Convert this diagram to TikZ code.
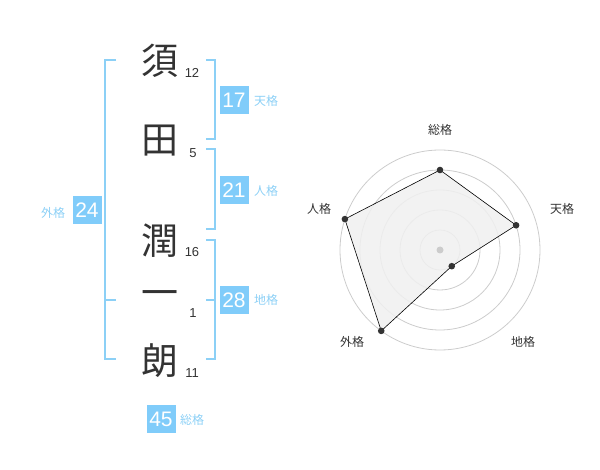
\documentclass[tikz,border=0pt]{standalone}
\usepackage{fontspec}
\usetikzlibrary{calc}
\setmainfont{Liberation Sans}
\newfontfamily\jp{Noto Sans CJK JP}
\definecolor{bk}{RGB}{128,204,250}
\definecolor{bl}{RGB}{140,208,246}
\definecolor{tx}{RGB}{51,51,51}
\definecolor{rg}{RGB}{204,204,204}
\definecolor{pf}{RGB}{240,240,240}
\tikzset{
  kanji/.style={font=\jp\fontsize{37}{37}\selectfont, text=tx, inner sep=0pt},
  stroke/.style={font=\fontsize{13}{13}\selectfont, text=tx, inner sep=0pt},
  numbox/.style={fill=bk, text=white, minimum width=29pt, minimum height=28pt, inner sep=0pt, font=\fontsize{21}{21}\selectfont},
  kaku/.style={font=\jp\fontsize{12}{12}\selectfont, text=bl, inner sep=0pt},
  brk/.style={draw=bl, line width=1.6pt},
  ring/.style={draw=rg, line width=0.8pt},
  axlab/.style={font=\jp\fontsize{12}{12}\selectfont, text=tx, inner sep=0pt},
  pdot/.style={fill=tx, draw=none},
}
\begin{document}
\begin{tikzpicture}[x=1pt,y=-1pt]
\useasboundingbox (0,0) rectangle (600,470);
% kanji
\node[kanji] (k1) at (160,61) {須};
\node[kanji] (k2) at (160,141) {田};
\node[kanji] (k3) at (160,241) {潤};
\node[kanji] (k4) at (160,299) {一};
\node[kanji] (k5) at (160,361) {朗};
% stroke counts
\node[stroke] (s1) at (192,73) {12};
\node[stroke] (s2) at (193,153) {5};
\node[stroke] (s3) at (192,252) {16};
\node[stroke] (s4) at (193,313) {1};
\node[stroke] (s5) at (192,373) {11};
% brackets
\coordinate (la) at (116,60); \coordinate (lb) at (105,60);
\coordinate (lc) at (105,359); \coordinate (ld) at (116,359);
\coordinate (le) at (105,300); \coordinate (lf) at (116,300);
\draw[brk] (la) -- (lb) -- (lc) -- (ld);
\draw[brk] (le) -- (lf);
\coordinate (ta) at (206,60); \coordinate (tb) at (215,60);
\coordinate (tc) at (215,139); \coordinate (td) at (206,139);
\draw[brk] (ta) -- (tb) -- (tc) -- (td);
\coordinate (ja) at (206,149); \coordinate (jb) at (215,149);
\coordinate (jc) at (215,229); \coordinate (jd) at (206,229);
\draw[brk] (ja) -- (jb) -- (jc) -- (jd);
\coordinate (ca) at (206,240); \coordinate (cb) at (215,240);
\coordinate (cc) at (215,359); \coordinate (cd) at (206,359);
\coordinate (ce) at (206,300); \coordinate (cf) at (215,300);
\draw[brk] (ca) -- (cb) -- (cc) -- (cd);
\draw[brk] (ce) -- (cf);
% boxes
\node[numbox] (b17) at (234,100) {17};
\node[kaku] (l17) at (266,101) {天格};
\node[numbox] (b21) at (234,190) {21};
\node[kaku] (l21) at (266,191) {人格};
\node[numbox] (b28) at (234,300) {28};
\node[kaku] (l28) at (266,300) {地格};
\node[numbox] (b24) at (87,210) {24};
\node[kaku] (l24) at (53,213) {外格};
\node[numbox] (b45) at (161,419) {45};
\node[kaku] (l45) at (192,420) {総格};
% radar
\coordinate (o) at (440,250);
\foreach \r in {20,40,60,80,100} \draw[ring] (o) circle[radius=\r pt];
\coordinate (p1) at ($(o)+(-90:80)$);
\coordinate (p2) at ($(o)+(-18:80)$);
\coordinate (p3) at ($(o)+(54:20)$);
\coordinate (p4) at ($(o)+(126:100)$);
\coordinate (p5) at ($(o)+(-162:100)$);
\draw[fill=pf, fill opacity=0.85, draw=black, line width=0.6pt] (p1) -- (p2) -- (p3) -- (p4) -- (p5) -- cycle;
\fill[rg] (o) circle[radius=3.5pt];
\foreach \p in {p1,p2,p3,p4,p5} \fill[pdot] (\p) circle[radius=3.3pt];
\node[axlab] (a1) at (440,130) {総格};
\node[axlab] (a2) at (562,209) {天格};
\node[axlab] (a3) at (523,342) {地格};
\node[axlab] (a4) at (352,342) {外格};
\node[axlab] (a5) at (319,209) {人格};
\end{tikzpicture}
\end{document}
